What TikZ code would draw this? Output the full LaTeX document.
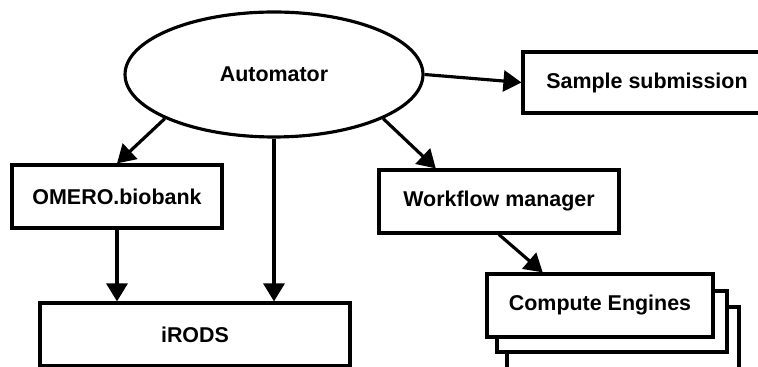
\documentclass[tikz,border=0pt]{standalone}
\usepackage{fontspec}
\setsansfont{Liberation Sans}
\usetikzlibrary{arrows.meta,calc,shapes.geometric}
\definecolor{cInk}{HTML}{000000}
\tikzset{
  every picture/.style={line width=1.8pt},
  box/.style={draw=cInk, fill=white, align=center, inner sep=2pt,
              font=\sffamily\bfseries\fontsize{12.2}{14}\selectfont, text=cInk},
  oval/.style={box, ellipse},
  flow/.style={-{Triangle[length=0.36cm,width=0.42cm]}, draw=cInk},
}
\begin{document}
\begin{tikzpicture}[x=0.02cm,y=-0.02cm]
\useasboundingbox (0,0) rectangle (758,367);

% ================================================== top: the automator
\node[oval, minimum width=5.96cm, minimum height=2.5cm] (auto) at (274,74.5) {Automator};
\node[box, minimum width=4.96cm, minimum height=1.22cm] (sample) at (647,82.5) {Sample submission};

% ================================================== middle row
\node[box, minimum width=4.2cm, minimum height=1.26cm] (omero) at (117,196.5) {OMERO.biobank};
\node[box, minimum width=4.8cm, minimum height=1.26cm] (wfm) at (499,201.5) {Workflow manager};

% ================================================== bottom: storage and engines
\node[box, minimum width=6.2cm, minimum height=1.26cm] (irods) at (195,334.5) {iRODS};
\node[box, minimum width=4.64cm, minimum height=1.26cm] (ce3) at (623,338.5) {};
\node[box, minimum width=4.6cm, minimum height=1.22cm] (ce2) at (612,321.5) {};
\node[box, minimum width=4.52cm, minimum height=1.26cm] (ce1) at (600,305.5) {Compute Engines};

% ================================================== connectors
\draw[flow] (auto.east) -- (sample.west);
\draw[flow] (auto.202) -- (omero.north);
\draw[flow] (auto.south) -- (auto.south |- irods.north);
\draw[flow] (omero.south) -- (omero.south |- irods.north);
\draw[flow] (auto.338) -- ($(wfm.north west)!0.24!(wfm.north east)$);
\draw[flow] (wfm.south) -- ($(ce1.north west)!0.25!(ce1.north east)$);

\end{tikzpicture}
\end{document}
